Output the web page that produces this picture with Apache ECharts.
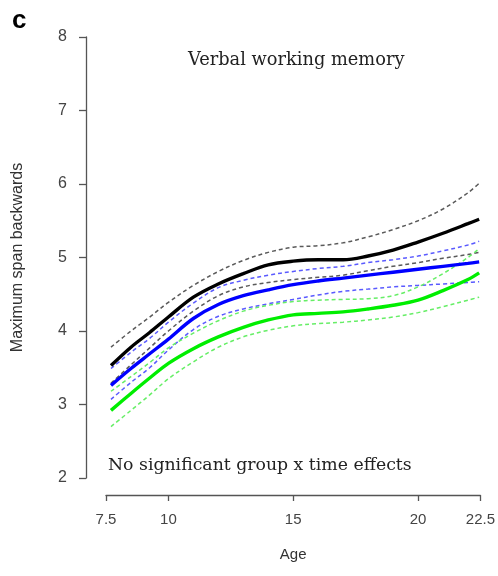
<!DOCTYPE html>
<html>
<head>
<meta charset="utf-8">
<script src="https://cdn.jsdelivr.net/npm/echarts@6/dist/echarts.min.js"></script>
<style>
html,body{margin:0;padding:0;background:#fff;}
#chart{width:498px;height:576px;}
</style>
</head>
<body>
<div id="chart"></div>
<script>
// Data
const ages = [7.7, 8.5, 9.25, 10, 11, 12, 13, 14, 15, 16, 17, 18, 19, 20, 21, 22, 22.45];
const blackMean  = [3.53, 3.78, 3.98, 4.19, 4.46, 4.64, 4.78, 4.90, 4.95, 4.97, 4.97, 5.02, 5.10, 5.21, 5.33, 5.46, 5.52];
const blackUpper = [3.78, 4.00, 4.19, 4.39, 4.62, 4.81, 4.96, 5.07, 5.14, 5.16, 5.20, 5.28, 5.38, 5.50, 5.66, 5.88, 6.01];
const blackLower = [3.29, 3.54, 3.77, 4.00, 4.27, 4.48, 4.60, 4.66, 4.70, 4.73, 4.76, 4.82, 4.88, 4.93, 4.99, 5.04, 5.07];
const blueMean   = [3.26, 3.49, 3.69, 3.89, 4.17, 4.36, 4.48, 4.56, 4.63, 4.68, 4.72, 4.76, 4.80, 4.84, 4.88, 4.92, 4.94];
const blueUpper  = [3.49, 3.71, 3.90, 4.12, 4.38, 4.59, 4.69, 4.76, 4.81, 4.85, 4.88, 4.93, 4.97, 5.02, 5.09, 5.17, 5.22];
const blueLower  = [3.07, 3.30, 3.50, 3.74, 4.02, 4.20, 4.30, 4.37, 4.43, 4.49, 4.54, 4.57, 4.60, 4.62, 4.64, 4.66, 4.67];
const greenMean  = [2.92, 3.15, 3.36, 3.56, 3.76, 3.92, 4.05, 4.15, 4.22, 4.24, 4.26, 4.30, 4.35, 4.42, 4.55, 4.70, 4.79];
const greenUpper = [3.18, 3.38, 3.57, 3.77, 3.97, 4.14, 4.27, 4.35, 4.40, 4.42, 4.43, 4.44, 4.48, 4.60, 4.78, 5.00, 5.12];
const greenLower = [2.70, 2.92, 3.13, 3.35, 3.58, 3.78, 3.92, 4.01, 4.07, 4.10, 4.12, 4.15, 4.19, 4.25, 4.33, 4.42, 4.46];
const xTicks = [7.5, 10, 15, 20, 22.5];
const yTicks = [2, 3, 4, 5, 6, 7, 8];

const pts = arr => ages.map((a, i) => [a, arr[i]]);
function solid(name, arr, color) {
  return { name, type: 'line', data: pts(arr), smooth: 0.35, symbol: 'none', z: 3,
    lineStyle: { color, width: 3.4, type: 'solid' } };
}
function dashed(name, arr, color) {
  return { name, type: 'line', data: pts(arr), smooth: 0.35, symbol: 'none', z: 2,
    lineStyle: { color, width: 1.5, type: [4, 3] } };
}

const chart = echarts.init(document.getElementById('chart'), null, { renderer: 'canvas' });
chart.setOption({
  animation: false,
  backgroundColor: '#fff',
  grid: { left: 106, right: 17, top: 37, bottom: 98, containLabel: false },
  xAxis: {
    type: 'value', min: 7.5, max: 22.5, offset: 17,
    name: 'Age', nameLocation: 'middle', nameGap: 52,
    nameTextStyle: { fontFamily: 'Liberation Sans', fontSize: 15, color: '#333' },
    axisLine: { show: true, lineStyle: { color: '#555', width: 1.3 } },
    axisTick: { show: true, length: 6, customValues: xTicks, lineStyle: { color: '#555', width: 1.3 } },
    axisLabel: { customValues: xTicks, margin: 17, fontFamily: 'Liberation Sans', fontSize: 15, color: '#444',
      formatter: v => String(v) },
    splitLine: { show: false }
  },
  yAxis: {
    type: 'value', min: 2, max: 8, interval: 1, offset: 20,
    name: 'Maximum span backwards', nameLocation: 'middle', nameGap: 60, nameRotate: 90,
    nameTextStyle: { fontFamily: 'Liberation Sans', fontSize: 16, color: '#333' },
    axisLine: { show: true, lineStyle: { color: '#555', width: 1.3 } },
    axisTick: { show: true, length: 7, lineStyle: { color: '#555', width: 1.3 } },
    axisLabel: { margin: 19, fontFamily: 'Liberation Sans', fontSize: 16, color: '#444' },
    splitLine: { show: false }
  },
  graphic: [
    { type: 'text', left: 12, top: 8, style: { text: 'c', font: 'bold 26px "Liberation Sans"', fill: '#000' } },
    { type: 'text', left: 188, top: 51, style: { text: 'Verbal working memory', font: '17.8px "DejaVu Serif"', fill: '#222' } },
    { type: 'text', left: 108, top: 457, style: { text: 'No significant group x time effects', font: '17.3px "DejaVu Serif"', fill: '#222' } }
  ],
  series: [
    dashed('Black upper', blackUpper, '#5a5a5a'),
    dashed('Black lower', blackLower, '#5a5a5a'),
    dashed('Blue upper', blueUpper, '#5a5aff'),
    dashed('Blue lower', blueLower, '#5a5aff'),
    dashed('Green upper', greenUpper, '#66ee66'),
    dashed('Green lower', greenLower, '#66ee66'),
    solid('Black', blackMean, '#000000'),
    solid('Blue', blueMean, '#0000ff'),
    solid('Green', greenMean, '#00ee00')
  ]
});
</script>
</body>
</html>
